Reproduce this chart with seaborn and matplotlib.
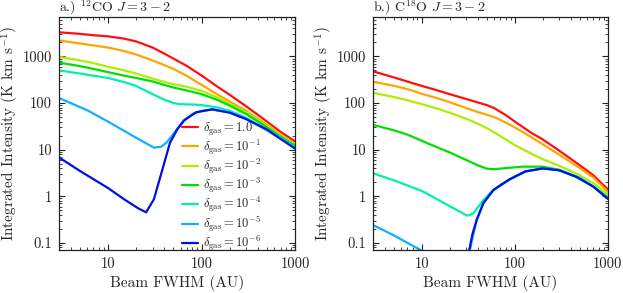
import pandas as pd
import numpy as np
import matplotlib
matplotlib.use('Agg')
import matplotlib.pyplot as plt
import matplotlib.ticker as ticker
import seaborn as sns

sns.set_style('ticks')
plt.rcParams['font.family'] = ['cmr10', 'DejaVu Serif']
plt.rcParams['mathtext.fontset'] = 'cm'
plt.rcParams['axes.formatter.use_mathtext'] = True
plt.rcParams['axes.unicode_minus'] = False

labels = [r'$\delta_{\rm gas} = 1.0$', r'$\delta_{\rm gas} = 10^{-1}$', r'$\delta_{\rm gas} = 10^{-2}$',
          r'$\delta_{\rm gas} = 10^{-3}$', r'$\delta_{\rm gas} = 10^{-4}$', r'$\delta_{\rm gas} = 10^{-5}$',
          r'$\delta_{\rm gas} = 10^{-6}$']
colors = ['#ff1010', '#ffa500', '#aaf000', '#00e000', '#00f0b0', '#10b0ff', '#0010e0']

# panel a: 12CO J=3-2
x_std = [3, 5, 7, 10, 15, 20, 30, 40, 50, 70, 100, 150, 200, 300, 500, 700, 1000]
a_red = [3300, 3050, 2850, 2700, 2400, 2100, 1550, 1150, 900, 620, 390, 220, 150, 85, 40, 24, 15]
a_orange = [2200, 1900, 1720, 1550, 1300, 1100, 820, 650, 540, 380, 245, 150, 108, 68, 34, 21, 13]
a_yellow = [980, 820, 720, 600, 500, 430, 335, 285, 255, 222, 182, 130, 97, 63, 32, 20, 12.5]
a_green = [735, 620, 540, 460, 385, 345, 290, 245, 215, 185, 155, 115, 88, 58, 30, 19, 12]
x_a_cyan = [3, 5, 7, 10, 15, 20, 30, 40, 50, 60, 80, 100, 150, 200, 300, 500, 700, 1000]
a_cyan = [500, 430, 385, 345, 280, 232, 155, 118, 100, 94, 93, 90, 80, 68, 48, 27, 18, 11]
x_a_lblue = [3, 6, 10, 20, 31, 37, 42, 46, 55, 65, 80, 100, 130, 200, 300, 500, 700, 1000]
a_lblue = [128, 70, 40, 18, 11, 11.5, 14, 17.5, 28, 43, 58, 68, 73, 63, 46, 26, 17, 10.8]
x_a_blue = [3, 5, 10, 15, 21, 25.6, 31, 38, 46, 55, 65, 87, 130, 200, 300, 500, 700, 1000]
a_blue = [6.8, 3.5, 1.5, 0.85, 0.55, 0.45, 0.86, 3.6, 14, 27, 42, 63, 73, 62, 45, 27, 17, 10.5]

# panel b: C18O J=3-2
x_b = [3, 5, 7, 10, 15, 20, 30, 40, 50, 60, 80, 100, 150, 200, 300, 500, 700, 1000]
b_red = [480, 355, 290, 233, 185, 155, 122, 103, 90, 78, 55, 40, 23, 16.5, 9.5, 4.6, 2.8, 1.4]
b_orange = [285, 235, 200, 158, 125, 104, 78, 64, 56, 50, 38, 30, 18.5, 13, 7.8, 4.0, 2.5, 1.25]
b_yellow = [165, 135, 115, 95, 75, 62, 46, 36, 29, 23.5, 16.5, 12.5, 8.2, 6.2, 4.5, 2.8, 1.9, 1.1]
x_b_green = [3, 5, 7, 10, 15, 20, 30, 40, 50, 60, 80, 120, 200, 300, 500, 700, 1000]
b_green = [34, 26, 21, 15.5, 11, 8.7, 6.0, 4.6, 3.9, 3.8, 4.0, 4.3, 4.3, 3.7, 2.4, 1.6, 0.95]
x_b_cyan = [3, 5, 7, 10, 15, 20, 25, 31, 36, 45, 55, 70, 90, 130, 200, 300, 500, 700, 1000]
b_cyan = [3.1, 2.2, 1.7, 1.3, 0.84, 0.61, 0.48, 0.38, 0.43, 0.78, 1.2, 1.75, 2.35, 3.4, 3.95, 3.6, 2.5, 1.6, 0.9]
x_b_lblue = [3, 5, 7, 10, 15, 20, 30, 35, 39, 46, 59, 88, 130, 200, 300, 460, 700, 1000]
b_lblue = [0.24, 0.145, 0.1, 0.068, 0.045, 0.034, 0.03, 0.12, 0.31, 0.71, 1.36, 2.3, 3.4, 3.95, 3.6, 2.6, 1.6, 0.88]
x_b_blue = [32, 35, 39, 46, 59, 88, 130, 200, 300, 460, 700, 1000]
b_blue = [0.06, 0.15, 0.31, 0.71, 1.36, 2.3, 3.4, 3.95, 3.6, 2.6, 1.6, 0.88]


def make_df(pairs):
    frames = []
    for lab, (xs, ys) in zip(labels, pairs):
        frames.append(pd.DataFrame({'fwhm': xs, 'intensity': ys, 'delta': lab}))
    return pd.concat(frames, ignore_index=True)


df_a = make_df([(x_std, a_red), (x_std, a_orange), (x_std, a_yellow), (x_std, a_green),
                (x_a_cyan, a_cyan), (x_a_lblue, a_lblue), (x_a_blue, a_blue)])
df_b = make_df([(x_b, b_red), (x_b, b_orange), (x_b, b_yellow), (x_b_green, b_green),
                (x_b_cyan, b_cyan), (x_b_lblue, b_lblue), (x_b_blue, b_blue)])

fig = plt.figure(figsize=(6.23, 2.93), dpi=100)
ax1 = fig.add_axes([0.0947, 0.1468, 0.379, 0.795])
ax2 = fig.add_axes([0.5987, 0.1468, 0.377, 0.795])

for ax, df, title in [(ax1, df_a, r'a.) $^{12}$CO $J=3-2$'), (ax2, df_b, r'b.) C$^{18}$O $J=3-2$')]:
    sns.lineplot(data=df, x='fwhm', y='intensity', hue='delta', hue_order=labels, palette=colors,
                 estimator=None, sort=False, linewidth=1.6, ax=ax, legend=(ax is ax1))
    ax.set_xscale('log')
    ax.set_yscale('log')
    ax.set_xlim(3, 1000)
    ax.set_ylim(0.07, 7000)
    ax.set_title(title, loc='left', fontsize=10, pad=0.5)
    ax.set_xlabel('Beam FWHM (AU)', fontsize=11, labelpad=3)
    ax.set_ylabel(r'Integrated Intensity (K km s$^{-1}$)', fontsize=11, labelpad=1)
    ax.xaxis.set_major_formatter(ticker.FuncFormatter(lambda v, p: f'{v:g}'))
    ax.yaxis.set_major_formatter(ticker.FuncFormatter(lambda v, p: f'{v:g}'))
    ax.xaxis.set_minor_formatter(ticker.NullFormatter())
    ax.yaxis.set_minor_formatter(ticker.NullFormatter())
    ax.tick_params(which='both', direction='in', top=True, right=True, labelsize=10.5, colors='#222222')
    ax.tick_params(which='major', length=4, width=0.8, pad=5)
    ax.tick_params(which='minor', length=2, width=0.6)
    for s in ax.spines.values():
        s.set_color('#222222')
        s.set_linewidth(0.9)

handles, labs = ax1.get_legend_handles_labels()
ax1.legend(handles, labs, loc='lower left', bbox_to_anchor=(0.5, -0.035), frameon=False,
           fontsize=9, handlelength=1.3, handletextpad=0.4, labelspacing=0.0, borderaxespad=0)

fig.savefig('out.png', dpi=100)
